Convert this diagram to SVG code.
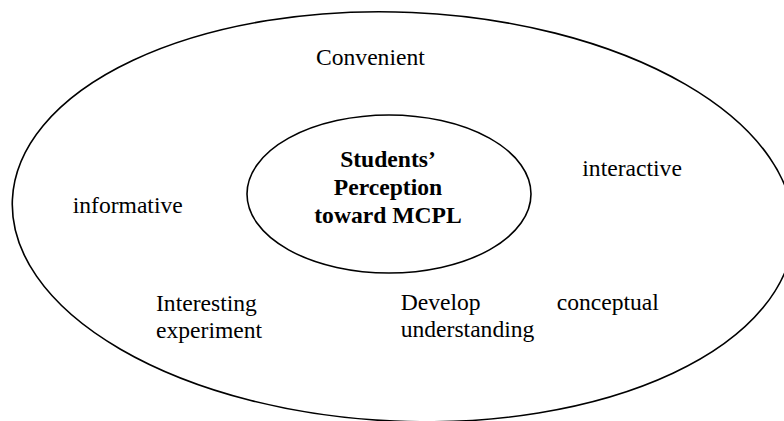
<svg xmlns="http://www.w3.org/2000/svg" width="784" height="421" viewBox="0 0 784 421">
  <style>
    .ring { fill: none; stroke: #000; stroke-width: 1.6; }
    .lbl { font-family: "Liberation Serif", "Times New Roman", serif; font-size: 23.6px; fill: #000; }
    .core { font-family: "Liberation Serif", "Times New Roman", serif; font-size: 23.6px; font-weight: bold; fill: #000; text-anchor: middle; }
  </style>
  <rect width="784" height="421" fill="#fff"/>

  <!-- outer boundary: perception attributes -->
  <g id="outer">
    <ellipse class="ring" cx="403" cy="216.8" rx="391" ry="204.5" transform="rotate(2.5 403 216.8)"/>
  </g>

  <!-- central concept -->
  <g id="center">
    <ellipse class="ring" cx="389" cy="194" rx="142" ry="79"/>
    <text class="core" x="388" y="166.5">Students’</text>
    <text class="core" x="388" y="195">Perception</text>
    <text class="core" x="388" y="223.3">toward MCPL</text>
  </g>

  <g id="convenient"><text class="lbl" x="316" y="64.5">Convenient</text></g>
  <g id="interactive"><text class="lbl" x="582.3" y="175.7">interactive</text></g>
  <g id="informative"><text class="lbl" x="72.7" y="212.7">informative</text></g>
  <g id="interesting-experiment">
    <text class="lbl" x="156" y="310.5">Interesting</text>
    <text class="lbl" x="156" y="338">experiment</text>
  </g>
  <g id="develop-understanding">
    <text class="lbl" x="400.7" y="309.5">Develop</text>
    <text class="lbl" x="400.7" y="336.7">understanding</text>
  </g>
  <g id="conceptual"><text class="lbl" x="556.7" y="309.5">conceptual</text></g>

  <g id="connectors"/>
</svg>
